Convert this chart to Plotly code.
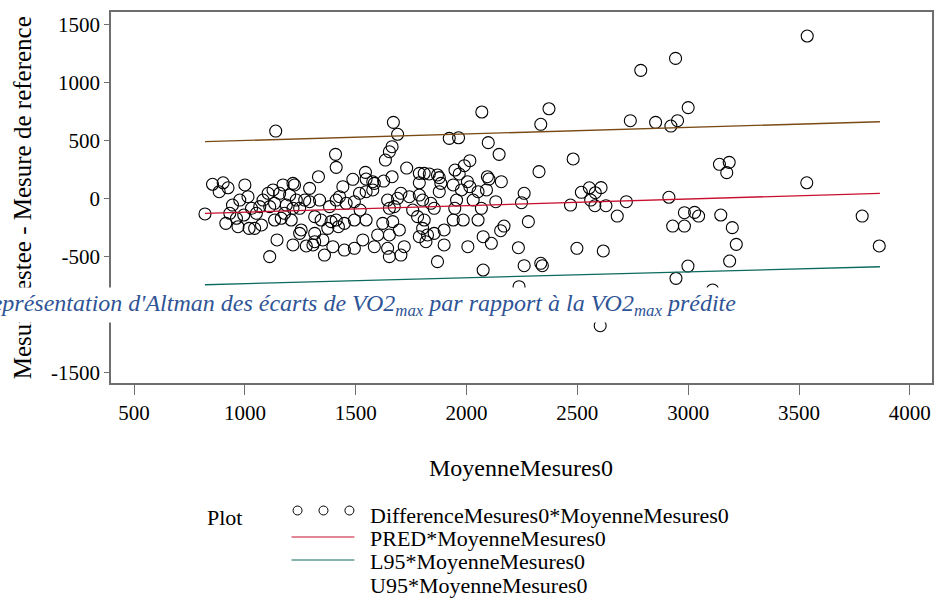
import plotly.graph_objects as go

# Bland-Altman data (moyenne des mesures, difference des mesures)
moyenne = [
    820, 854, 884, 902, 914, 924, 932, 944, 962, 969, 977, 995, 1000, 1014, 1019, 1030,
    1044, 1052, 1067, 1075, 1082, 1105, 1112, 1112, 1127, 1134, 1134, 1139, 1145, 1157,
    1164, 1172, 1179, 1187, 1202, 1209, 1217, 1217, 1217, 1224, 1232, 1247, 1247, 1254,
    1270, 1277, 1292, 1292, 1307, 1315, 1315, 1315, 1332, 1337, 1344, 1352, 1359, 1374,
    1382, 1389, 1397, 1409, 1412, 1412, 1412, 1422, 1427, 1442, 1449, 1449, 1457, 1487,
    1494, 1494, 1494, 1517, 1520, 1532, 1544, 1547, 1547, 1547, 1577, 1577, 1584, 1584,
    1599, 1622, 1626, 1634, 1644, 1644, 1652, 1652, 1652, 1652, 1664, 1664, 1667, 1670,
    1674, 1689, 1689, 1697, 1704, 1704, 1719, 1730, 1742, 1757, 1779, 1787, 1787, 1787,
    1787, 1802, 1802, 1809, 1809, 1817, 1824, 1832, 1839, 1854, 1854, 1869, 1869, 1877,
    1877, 1884, 1899, 1899, 1922, 1940, 1940, 1947, 1948, 1955, 1964, 1967, 1977, 1985,
    1990, 2004, 2006, 2015, 2015, 2030, 2052, 2052, 2067, 2069, 2075, 2075, 2090, 2094,
    2098, 2101, 2101, 2112, 2132, 2147, 2154, 2157, 2169, 2234, 2237, 2248, 2260, 2260,
    2279, 2327, 2335, 2335, 2342, 2372, 2469, 2481, 2498, 2518, 2554, 2560, 2579, 2581,
    2603, 2607, 2617, 2629, 2645, 2680, 2721, 2739, 2786, 2853, 2913, 2922, 2930, 2943,
    2945, 2952, 2983, 2983, 2999, 3000, 3029, 3047, 3110, 3141, 3147, 3174, 3185, 3187,
    3199, 3217, 3535, 3537, 3785, 3862,
]
difference = [
    -135, 121, 57, 134, -216, 91, -129, -58, -172, -245, -15, -144, 115, 14, -259, -86,
    -259, -129, -72, -230, -15, 43, -72, -503, 72, -187, -43, 580, -359, 43,
    -172, 115, -129, -58, 28, -187, -402, 129, -86, 115, -15, -86, -302, -273,
    -15, -411, 86, -29, -402, -158, -302, -374, 186, -15, -187, -359, -489, -259,
    -72, -201, -417, 379, 267, -187, -15, -245, 14, 100, -216, -446, -43, 164,
    -29, -187, -431, 43, -101, -359, 224, 166, 57, -187, 143, 72, 129, -417,
    -316, -216, 149, 330, -15, -431, 402, -503, -316, -86, 445, 186, -201, 655,
    -72, 552, 0, -273, 43, -489, -417, 261, 14, -101, -158, 134, 28, 215,
    -331, -15, -259, 215, -187, -374, -316, 210, -43, -86, -302, 201, -546, 178,
    57, 129, -402, -273, 517, 115, -187, -86, 244, -15, 522, 210, 72, -187,
    281, 143, -417, 324, 100, -15, 57, -187, -86, 744, -331, -618, 72, 186,
    480, 166, -990, -388, -29, 379, -279, 143, -239, -426, -762, -38, 43, -581,
    -201, 230, 638, -560, -581, 772, -58, 339, -431, 52, 91, -15, -64, 48,
    -1098, 92, -454, -64, -850, -153, -29, 669, 1103, 655, 9, 623, -239, 1206,
    -690, 669, -124, -239, -584, 782, -121, -153, -790, 293, -144, 221, 310, -541,
    -253, -397, 134, 1399, -153, -411,
]

# Fitted lines (prediction and 95% limits) at the ends of the data
x_ligne = [820, 3865]
pred = [-130, 43]
l95 = [-745, -590]
u95 = [488, 660]

x_ticks = [500, 1000, 1500, 2000, 2500, 3000, 3500, 4000]
y_ticks = [-1500, -1000, -500, 0, 500, 1000, 1500]

legend_labels = [
    "DifferenceMesures0*MoyenneMesures0",
    "PRED*MoyenneMesures0",
    "L95*MoyenneMesures0",
    "U95*MoyenneMesures0",
]

caption = ("Représentation d'Altman des écarts de VO2<sub>max</sub> "
           "par rapport à la VO2<sub>max</sub> prédite")

SERIF = "Liberation Serif"
FRAME = "#6e6e6e"
RED = "#c8102e"
TEAL = "#0b6b5f"
BROWN = "#7a4a14"

fig = go.Figure()
fig.add_trace(go.Scatter(x=moyenne, y=difference, mode="markers",
                         marker=dict(symbol="circle-open", size=12, color="black",
                                     line=dict(width=1.1)),
                         name=legend_labels[0]))
fig.add_trace(go.Scatter(x=x_ligne, y=pred, mode="lines",
                         line=dict(color=RED, width=1.3), name=legend_labels[1]))
fig.add_trace(go.Scatter(x=x_ligne, y=l95, mode="lines",
                         line=dict(color=TEAL, width=1.3), name=legend_labels[2]))
fig.add_trace(go.Scatter(x=x_ligne, y=u95, mode="lines",
                         line=dict(color=BROWN, width=1.3), name=legend_labels[3]))

W, H = 936, 598
L, R, T, B = 111, 2, 12, 215
pw, ph = W - L - R, H - T - B


def px(x):
    return (x - L) / pw


def py(y):
    return (H - B - y) / ph


annotations = [
    dict(text="Mesure testee - Mesure de reference", textangle=-90,
         x=px(22), y=py(198), xanchor="center", yanchor="middle",
         font=dict(size=25)),
    dict(text="MoyenneMesures0", x=px(522), y=py(468),
         xanchor="center", yanchor="middle", font=dict(size=24)),
    dict(text="Plot", x=px(205), y=py(517), xanchor="left", yanchor="middle",
         font=dict(size=22)),
]
row_y = [515, 538, 561, 585]
for lab, yy in zip(legend_labels, row_y):
    annotations.append(dict(text=lab, x=px(369), y=py(yy), xanchor="left",
                            yanchor="middle", font=dict(size=22)))
annotations.append(dict(text="<i>" + caption + "</i>", x=px(741), y=py(305),
                        xanchor="right", yanchor="middle", bgcolor="white",
                        borderpad=2, font=dict(size=24, color="#2f5496")))
for a in annotations:
    a.update(xref="paper", yref="paper", showarrow=False)
    a["font"].update(family=SERIF)
    a["font"].setdefault("color", "black")

shapes = []
for cx in [298, 324, 350]:
    shapes.append(dict(type="circle", xref="paper", yref="paper",
                       x0=px(cx - 4.5), x1=px(cx + 4.5), y0=py(515), y1=py(506),
                       line=dict(color="black", width=1)))
shapes.append(dict(type="line", xref="paper", yref="paper", x0=px(292), x1=px(355),
                   y0=py(537), y1=py(537), line=dict(color=RED, width=1.2)))
shapes.append(dict(type="line", xref="paper", yref="paper", x0=px(292), x1=px(355),
                   y0=py(560), y1=py(560), line=dict(color=TEAL, width=1.2)))

fig.update_layout(
    width=W, height=H,
    margin=dict(l=L, r=R, t=T, b=B),
    paper_bgcolor="white", plot_bgcolor="white",
    showlegend=False,
    font=dict(family=SERIF, size=21, color="black"),
    annotations=annotations,
    shapes=shapes,
)
fig.update_xaxes(range=[396, 4100], tickvals=x_ticks, ticktext=[str(v) for v in x_ticks],
                 showgrid=False, zeroline=False, showline=True, mirror=True,
                 linecolor=FRAME, linewidth=1.5, ticks="outside", ticklen=10,
                 tickcolor=FRAME, tickwidth=1.2,
                 tickfont=dict(family=SERIF, size=21, color="black"))
fig.update_yaxes(range=[-1592, 1606], tickvals=y_ticks, ticktext=[str(v) for v in y_ticks],
                 showgrid=False, zeroline=False, showline=True, mirror=True,
                 linecolor=FRAME, linewidth=1.5, ticks="outside", ticklen=5,
                 tickcolor=FRAME, tickwidth=1.2,
                 tickfont=dict(family=SERIF, size=21, color="black"))

# drop the default page margin so the figure sits at the window's top-left corner
fig.write_html("out.html", config={"displayModeBar": False},
               post_script="document.body.style.margin='0';")
